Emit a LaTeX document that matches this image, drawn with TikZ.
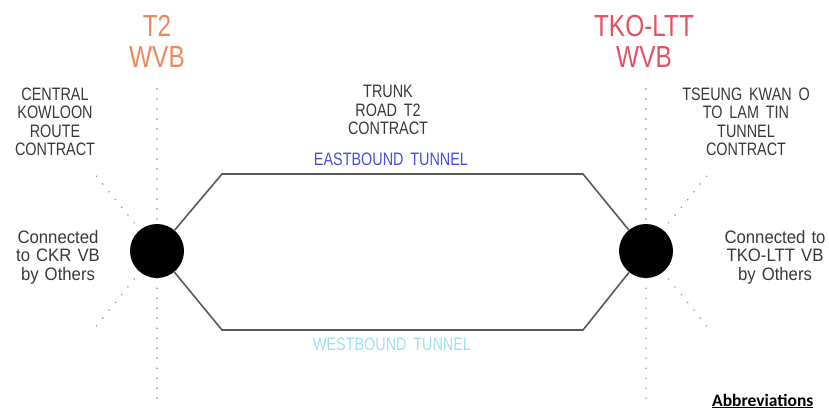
\documentclass[tikz,border=0pt]{standalone}
\usepackage{fontspec}
\setmainfont{Liberation Sans}
\newfontfamily\cadfont[FakeStretch=0.8,WordSpace=1.7]{Liberation Sans}
\newfontfamily\cadwide[FakeStretch=0.93,WordSpace=1.3]{Liberation Sans}
\newfontfamily\abbrfont{Carlito}
\usepackage{tikz}
\usetikzlibrary{calc}
\definecolor{tworange}{RGB}{236,136,92}
\definecolor{tkored}{RGB}{226,82,96}
\definecolor{eastblue}{RGB}{74,74,226}
\definecolor{westcyan}{RGB}{160,222,244}
\newcommand{\cadsize}{\fontsize{18}{18.5}\selectfont}
\newcommand{\wvbsize}{\fontsize{30.5}{31}\selectfont}

\begin{document}
\begin{tikzpicture}[x=1pt,y=-1pt,
	cadtext/.style={font=\cadfont\cadsize, text=black!78, align=center, inner sep=0pt},
	othertext/.style={font=\cadwide\cadsize, text=black!78, align=center, inner sep=0pt},
	wvbtext/.style={font=\cadfont\wvbsize, align=center, inner sep=0pt},
	tunnel/.style={draw=black!65, line width=1.6pt},
	dotline/.style={draw=black!45, line width=1.6pt, line cap=round, dash pattern=on 0pt off 10pt},
	shaft/.style={circle, fill=black, minimum size=54pt, inner sep=0pt}]
	\useasboundingbox (0,0) rectangle (829,410);

	\node[shaft] (lshaft) at (157,251) {};
	\node[shaft] (rshaft) at (646,251) {};

	\coordinate (ltop) at (157,89);
	\coordinate (lbot) at (157,400);
	\coordinate (rtop) at (646,89);
	\coordinate (rbot) at (646,400);
	\coordinate (lup) at (93,172);
	\coordinate (llow) at (93,330);
	\coordinate (rup) at (710,172);
	\coordinate (rlow) at (710,330);
	\coordinate (ebw) at (222,174);
	\coordinate (ebe) at (583,174);
	\coordinate (wbw) at (222,330);
	\coordinate (wbe) at (583,330);

	\draw[dotline] (ltop) -- (lshaft.north);
	\draw[dotline] (lshaft.south) -- (lbot);
	\draw[dotline] (rtop) -- (rshaft.north);
	\draw[dotline] (rshaft.south) -- (rbot);
	\draw[dotline, shorten <=9pt] (lshaft) -- (lup);
	\draw[dotline, shorten <=9pt] (lshaft) -- (llow);
	\draw[dotline, shorten <=9pt] (rshaft) -- (rup);
	\draw[dotline, shorten <=9pt] (rshaft) -- (rlow);

	\draw[tunnel] (lshaft) -- (ebw) -- (ebe) -- (rshaft);
	\draw[tunnel] (lshaft) -- (wbw) -- (wbe) -- (rshaft);

	\node[wvbtext, text=tworange] (t2wvb) at (157,41) {T2\\WVB};
	\node[wvbtext, text=tkored] (tkowvb) at (644,41) {TKO-LTT\\WVB};

	\node[cadtext] (ckr) at (55,122) {CENTRAL\\KOWLOON\\ROUTE\\CONTRACT};
	\node[cadtext] (t2con) at (388,110) {TRUNK\\ROAD T2\\CONTRACT};
	\node[cadtext] (tkocon) at (746,122) {TSEUNG KWAN O\\TO LAM TIN\\TUNNEL\\CONTRACT};
	\node[cadtext, text=eastblue] (eb) at (391,159) {EASTBOUND TUNNEL};
	\node[cadtext, text=westcyan] (wb) at (392,344) {WESTBOUND TUNNEL};

	\node[othertext] (ckrvb) at (58,257) {Connected\\to CKR VB\\by Others};
	\node[othertext] (tkovb) at (775,257) {Connected to\\TKO-LTT VB\\by Others};

	\node[font=\abbrfont\bfseries\fontsize{17.5}{19}\selectfont, anchor=base west, inner sep=0pt] (abbr) at (712,406) {\underline{Abbreviations}};
\end{tikzpicture}
\end{document}
